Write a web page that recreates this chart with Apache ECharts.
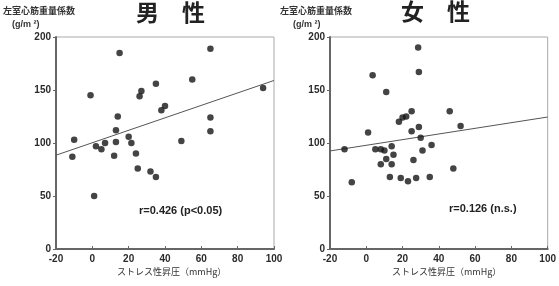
<!DOCTYPE html>
<html>
<head>
<meta charset="utf-8">
<script src="https://cdn.jsdelivr.net/npm/echarts@6/dist/echarts.min.js"></script>
<style>
  html, body { margin: 0; padding: 0; background: #fff; }
  #chart { width: 559px; height: 286px; }
</style>
</head>
<body>
<div id="chart"></div>
<script>
// ticks
var xTicks = [-20, 0, 20, 40, 60, 80, 100];
var yTicks = [0, 50, 100, 150, 200];

// 男性: stress BP rise (mmHg) vs LVMI (g/m2)
var maleStress = [15, 65, -1, 35, 55, 27, 26, 94, 40, 38, 14, 65, 13, 65, 49, -10, 20, 13, 21.5, 7, 2, 5, -11, 12, 24, 25, 32, 35, 1];
var maleLvmi = [185, 189, 145, 156, 160, 149, 144, 152, 135, 131, 125, 124, 112, 111, 102, 103, 106, 101, 100, 100, 97, 94, 87, 88, 90, 76, 73, 68, 50];
var maleFitX = [-20, 100];
var maleFitY = [88.5, 159];

// 女性
var femaleStress = [28.6, 29, 3.5, 11, 25, 46, 22, 20, 18, 52, 29, 1, 25, 30, 14, 36, -12, 5, 8, 10, 15, 31, 8, 11, 14, 26, 48, -8, 13, 19, 23, 27.5, 35];
var femaleLvmi = [190, 167, 164, 148, 130, 130, 125, 124, 120, 116, 115, 110, 111, 105, 97, 98, 94, 94, 94, 93, 89, 93, 80, 85, 80, 84, 76, 63, 68, 67, 64, 67, 68];
var femaleFitX = [-20, 100];
var femaleFitY = [92.5, 124.5];

function pairs(xs, ys) {
    var out = [];
    for (var i = 0; i < xs.length; i++) {
        out.push([xs[i], ys[i]]);
    }
    return out;
}

var jp = '"Noto Sans CJK JP", sans-serif';
var num = '"Liberation Sans", Arial, sans-serif';

function xAxisFor(idx) {
    return {
        gridIndex: idx, type: 'value',
        min: xTicks[0], max: xTicks[xTicks.length - 1], interval: 20,
        axisLine: { show: true, onZero: false, lineStyle: { color: '#666', width: 2 } },
        axisTick: { show: true, inside: true, length: 3, lineStyle: { color: '#666' } },
        axisLabel: { color: '#2a2a2a', fontSize: 10, fontWeight: 'bold', fontFamily: num, margin: 5 },
        splitLine: { show: false }
    };
}

function yAxisFor(idx) {
    return {
        gridIndex: idx, type: 'value',
        min: yTicks[0], max: yTicks[yTicks.length - 1], interval: 50,
        axisLine: { show: true, onZero: false, lineStyle: { color: '#666', width: 2 } },
        axisTick: { show: true, length: 3, lineStyle: { color: '#666' } },
        axisLabel: { color: '#2a2a2a', fontSize: 10, fontWeight: 'bold', fontFamily: num, margin: 5 },
        splitLine: { show: false }
    };
}

var myChart = echarts.init(document.getElementById('chart'));
var options = {
    animation: false,
    backgroundColor: '#fff',
    grid: [
        { left: 56, right: 285, top: 37, bottom: 37, show: true, borderColor: '#aaa', borderWidth: 1 },
        { left: 330, right: 8, top: 37, bottom: 37, show: true, borderColor: '#aaa', borderWidth: 1 }
    ],
    xAxis: [xAxisFor(0), xAxisFor(1)],
    yAxis: [yAxisFor(0), yAxisFor(1)],
    graphic: [
        { type: 'text', left: 136, top: 1, style: { text: '男　性', font: 'bold 23px ' + jp, fill: '#222' } },
        { type: 'text', left: 401, top: 0, style: { text: '女　性', font: 'bold 23px ' + jp, fill: '#222' } },
        { type: 'text', left: 3, top: 6, style: { text: '左室心筋重量係数', font: 'bold 9px ' + jp, fill: '#333' } },
        { type: 'text', left: 12, top: 20, style: { text: '(g/m ²)', font: 'bold 9px ' + num, fill: '#333' } },
        { type: 'text', left: 280, top: 6, style: { text: '左室心筋重量係数', font: 'bold 9px ' + jp, fill: '#333' } },
        { type: 'text', left: 293, top: 20, style: { text: '(g/m ²)', font: 'bold 9px ' + num, fill: '#333' } },
        { type: 'text', left: 117, top: 267, style: { text: 'ストレス性昇圧（mmHg）', font: '9px ' + jp, fill: '#333' } },
        { type: 'text', left: 392, top: 267, style: { text: 'ストレス性昇圧（mmHg）', font: '9px ' + jp, fill: '#333' } },
        { type: 'text', left: 139, top: 205, style: { text: 'r=0.426 (p<0.05)', font: 'bold 11px ' + num, fill: '#222' } },
        { type: 'text', left: 449, top: 203, style: { text: 'r=0.126 (n.s.)', font: 'bold 11px ' + num, fill: '#222' } }
    ],
    series: [
        {
            type: 'line', xAxisIndex: 0, yAxisIndex: 0,
            data: pairs(maleFitX, maleFitY), symbol: 'none',
            lineStyle: { color: '#555', width: 1 }, z: 1
        },
        {
            type: 'scatter', xAxisIndex: 0, yAxisIndex: 0,
            data: pairs(maleStress, maleLvmi), symbolSize: 6.5,
            itemStyle: { color: '#151515' }, z: 2
        },
        {
            type: 'line', xAxisIndex: 1, yAxisIndex: 1,
            data: pairs(femaleFitX, femaleFitY), symbol: 'none',
            lineStyle: { color: '#555', width: 1 }, z: 1
        },
        {
            type: 'scatter', xAxisIndex: 1, yAxisIndex: 1,
            data: pairs(femaleStress, femaleLvmi), symbolSize: 6.5,
            itemStyle: { color: '#151515' }, z: 2
        }
    ]
};
myChart.setOption(options, true);
</script>
</body>
</html>
